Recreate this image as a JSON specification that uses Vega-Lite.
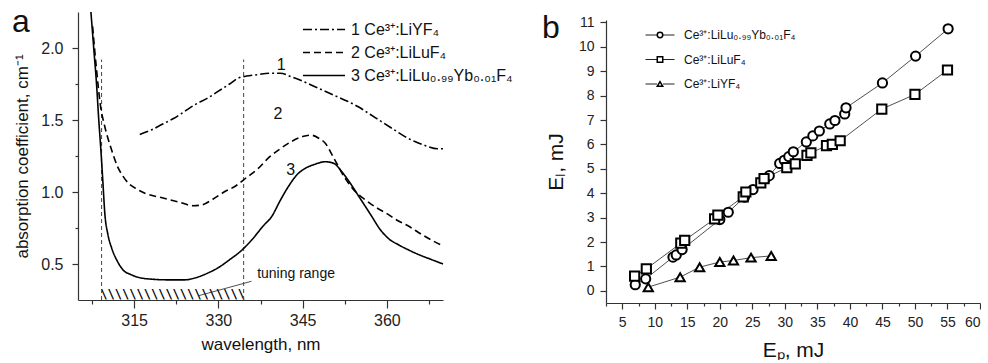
{
  "$schema": "https://vega.github.io/schema/vega-lite/v6.json",
  "background": "white",
  "padding": {"left": 12, "top": 5, "right": 0, "bottom": 0},
  "bounds": "flush",
  "spacing": 163,
  "config": {
    "font": "Liberation Sans",
    "view": {"stroke": null},
    "axis": {"grid": false, "domainColor": "#333", "domainWidth": 1.2, "tickColor": "#333", "tickWidth": 1.2, "labelColor": "#222", "titleColor": "#111", "labelFont": "Liberation Sans", "titleFont": "Liberation Sans", "titleFontWeight": "normal"},
    "legend": {"padding": 0, "labelFont": "Liberation Sans", "labelColor": "#111"},
    "title": {"font": "Liberation Sans", "fontWeight": "normal", "color": "#111"}
  },
  "datasets": {
    "spectra": [
      {"wl": 316, "k": 1.40, "s": "1 Ce³⁺:LiYF₄"}, {"wl": 318, "k": 1.43, "s": "1 Ce³⁺:LiYF₄"}, {"wl": 320, "k": 1.47, "s": "1 Ce³⁺:LiYF₄"}, {"wl": 322, "k": 1.51, "s": "1 Ce³⁺:LiYF₄"}, {"wl": 324, "k": 1.56, "s": "1 Ce³⁺:LiYF₄"}, {"wl": 326, "k": 1.61, "s": "1 Ce³⁺:LiYF₄"}, {"wl": 328, "k": 1.65, "s": "1 Ce³⁺:LiYF₄"}, {"wl": 330, "k": 1.70, "s": "1 Ce³⁺:LiYF₄"}, {"wl": 332, "k": 1.75, "s": "1 Ce³⁺:LiYF₄"}, {"wl": 333.5, "k": 1.79, "s": "1 Ce³⁺:LiYF₄"}, {"wl": 335, "k": 1.805, "s": "1 Ce³⁺:LiYF₄"}, {"wl": 337, "k": 1.815, "s": "1 Ce³⁺:LiYF₄"}, {"wl": 339, "k": 1.825, "s": "1 Ce³⁺:LiYF₄"}, {"wl": 341, "k": 1.825, "s": "1 Ce³⁺:LiYF₄"}, {"wl": 343, "k": 1.80, "s": "1 Ce³⁺:LiYF₄"}, {"wl": 345, "k": 1.77, "s": "1 Ce³⁺:LiYF₄"}, {"wl": 347, "k": 1.735, "s": "1 Ce³⁺:LiYF₄"}, {"wl": 349, "k": 1.70, "s": "1 Ce³⁺:LiYF₄"}, {"wl": 351, "k": 1.665, "s": "1 Ce³⁺:LiYF₄"}, {"wl": 353, "k": 1.63, "s": "1 Ce³⁺:LiYF₄"}, {"wl": 355, "k": 1.59, "s": "1 Ce³⁺:LiYF₄"}, {"wl": 357, "k": 1.54, "s": "1 Ce³⁺:LiYF₄"}, {"wl": 359, "k": 1.49, "s": "1 Ce³⁺:LiYF₄"}, {"wl": 361, "k": 1.44, "s": "1 Ce³⁺:LiYF₄"}, {"wl": 363, "k": 1.39, "s": "1 Ce³⁺:LiYF₄"}, {"wl": 365, "k": 1.35, "s": "1 Ce³⁺:LiYF₄"}, {"wl": 367, "k": 1.32, "s": "1 Ce³⁺:LiYF₄"}, {"wl": 369, "k": 1.30, "s": "1 Ce³⁺:LiYF₄"}, {"wl": 370, "k": 1.30, "s": "1 Ce³⁺:LiYF₄"},
      {"wl": 307.6, "k": 2.15, "s": "2 Ce³⁺:LiLuF₄"}, {"wl": 308.3, "k": 1.85, "s": "2 Ce³⁺:LiLuF₄"}, {"wl": 309, "k": 1.6, "s": "2 Ce³⁺:LiLuF₄"}, {"wl": 309.8, "k": 1.45, "s": "2 Ce³⁺:LiLuF₄"}, {"wl": 311, "k": 1.29, "s": "2 Ce³⁺:LiLuF₄"}, {"wl": 312, "k": 1.18, "s": "2 Ce³⁺:LiLuF₄"}, {"wl": 313, "k": 1.11, "s": "2 Ce³⁺:LiLuF₄"}, {"wl": 314, "k": 1.06, "s": "2 Ce³⁺:LiLuF₄"}, {"wl": 315.5, "k": 1.02, "s": "2 Ce³⁺:LiLuF₄"}, {"wl": 317, "k": 0.99, "s": "2 Ce³⁺:LiLuF₄"}, {"wl": 320, "k": 0.96, "s": "2 Ce³⁺:LiLuF₄"}, {"wl": 323, "k": 0.93, "s": "2 Ce³⁺:LiLuF₄"}, {"wl": 325.5, "k": 0.905, "s": "2 Ce³⁺:LiLuF₄"}, {"wl": 327, "k": 0.91, "s": "2 Ce³⁺:LiLuF₄"}, {"wl": 329, "k": 0.95, "s": "2 Ce³⁺:LiLuF₄"}, {"wl": 331, "k": 1.0, "s": "2 Ce³⁺:LiLuF₄"}, {"wl": 333, "k": 1.04, "s": "2 Ce³⁺:LiLuF₄"}, {"wl": 335, "k": 1.10, "s": "2 Ce³⁺:LiLuF₄"}, {"wl": 337, "k": 1.16, "s": "2 Ce³⁺:LiLuF₄"}, {"wl": 339, "k": 1.24, "s": "2 Ce³⁺:LiLuF₄"}, {"wl": 341, "k": 1.30, "s": "2 Ce³⁺:LiLuF₄"}, {"wl": 343, "k": 1.35, "s": "2 Ce³⁺:LiLuF₄"}, {"wl": 345, "k": 1.385, "s": "2 Ce³⁺:LiLuF₄"}, {"wl": 346.5, "k": 1.395, "s": "2 Ce³⁺:LiLuF₄"}, {"wl": 348, "k": 1.37, "s": "2 Ce³⁺:LiLuF₄"}, {"wl": 349, "k": 1.34, "s": "2 Ce³⁺:LiLuF₄"}, {"wl": 350.5, "k": 1.24, "s": "2 Ce³⁺:LiLuF₄"}, {"wl": 352.5, "k": 1.10, "s": "2 Ce³⁺:LiLuF₄"}, {"wl": 354, "k": 1.02, "s": "2 Ce³⁺:LiLuF₄"}, {"wl": 356, "k": 0.95, "s": "2 Ce³⁺:LiLuF₄"}, {"wl": 358, "k": 0.895, "s": "2 Ce³⁺:LiLuF₄"}, {"wl": 360, "k": 0.85, "s": "2 Ce³⁺:LiLuF₄"}, {"wl": 362, "k": 0.80, "s": "2 Ce³⁺:LiLuF₄"}, {"wl": 364, "k": 0.76, "s": "2 Ce³⁺:LiLuF₄"}, {"wl": 366, "k": 0.71, "s": "2 Ce³⁺:LiLuF₄"}, {"wl": 368, "k": 0.665, "s": "2 Ce³⁺:LiLuF₄"}, {"wl": 370, "k": 0.625, "s": "2 Ce³⁺:LiLuF₄"},
      {"wl": 307.3, "k": 2.25, "s": "3 Ce³⁺:LiLu₀.₉₉Yb₀.₀₁F₄"}, {"wl": 307.8, "k": 2.0, "s": "3 Ce³⁺:LiLu₀.₉₉Yb₀.₀₁F₄"}, {"wl": 308.3, "k": 1.75, "s": "3 Ce³⁺:LiLu₀.₉₉Yb₀.₀₁F₄"}, {"wl": 308.7, "k": 1.5, "s": "3 Ce³⁺:LiLu₀.₉₉Yb₀.₀₁F₄"}, {"wl": 309.06, "k": 1.3, "s": "3 Ce³⁺:LiLu₀.₉₉Yb₀.₀₁F₄"}, {"wl": 309.4, "k": 1.09, "s": "3 Ce³⁺:LiLu₀.₉₉Yb₀.₀₁F₄"}, {"wl": 309.8, "k": 0.84, "s": "3 Ce³⁺:LiLu₀.₉₉Yb₀.₀₁F₄"}, {"wl": 310.3, "k": 0.71, "s": "3 Ce³⁺:LiLu₀.₉₉Yb₀.₀₁F₄"}, {"wl": 311, "k": 0.61, "s": "3 Ce³⁺:LiLu₀.₉₉Yb₀.₀₁F₄"}, {"wl": 312, "k": 0.52, "s": "3 Ce³⁺:LiLu₀.₉₉Yb₀.₀₁F₄"}, {"wl": 313, "k": 0.46, "s": "3 Ce³⁺:LiLu₀.₉₉Yb₀.₀₁F₄"}, {"wl": 314.5, "k": 0.425, "s": "3 Ce³⁺:LiLu₀.₉₉Yb₀.₀₁F₄"}, {"wl": 316, "k": 0.405, "s": "3 Ce³⁺:LiLu₀.₉₉Yb₀.₀₁F₄"}, {"wl": 318, "k": 0.395, "s": "3 Ce³⁺:LiLu₀.₉₉Yb₀.₀₁F₄"}, {"wl": 321, "k": 0.39, "s": "3 Ce³⁺:LiLu₀.₉₉Yb₀.₀₁F₄"}, {"wl": 324, "k": 0.39, "s": "3 Ce³⁺:LiLu₀.₉₉Yb₀.₀₁F₄"}, {"wl": 326, "k": 0.405, "s": "3 Ce³⁺:LiLu₀.₉₉Yb₀.₀₁F₄"}, {"wl": 328, "k": 0.435, "s": "3 Ce³⁺:LiLu₀.₉₉Yb₀.₀₁F₄"}, {"wl": 330, "k": 0.475, "s": "3 Ce³⁺:LiLu₀.₉₉Yb₀.₀₁F₄"}, {"wl": 332, "k": 0.53, "s": "3 Ce³⁺:LiLu₀.₉₉Yb₀.₀₁F₄"}, {"wl": 334, "k": 0.59, "s": "3 Ce³⁺:LiLu₀.₉₉Yb₀.₀₁F₄"}, {"wl": 336, "k": 0.67, "s": "3 Ce³⁺:LiLu₀.₉₉Yb₀.₀₁F₄"}, {"wl": 338, "k": 0.765, "s": "3 Ce³⁺:LiLu₀.₉₉Yb₀.₀₁F₄"}, {"wl": 339.5, "k": 0.83, "s": "3 Ce³⁺:LiLu₀.₉₉Yb₀.₀₁F₄"}, {"wl": 341, "k": 0.94, "s": "3 Ce³⁺:LiLu₀.₉₉Yb₀.₀₁F₄"}, {"wl": 342.5, "k": 1.04, "s": "3 Ce³⁺:LiLu₀.₉₉Yb₀.₀₁F₄"}, {"wl": 344, "k": 1.12, "s": "3 Ce³⁺:LiLu₀.₉₉Yb₀.₀₁F₄"}, {"wl": 345.5, "k": 1.165, "s": "3 Ce³⁺:LiLu₀.₉₉Yb₀.₀₁F₄"}, {"wl": 347, "k": 1.19, "s": "3 Ce³⁺:LiLu₀.₉₉Yb₀.₀₁F₄"}, {"wl": 349, "k": 1.21, "s": "3 Ce³⁺:LiLu₀.₉₉Yb₀.₀₁F₄"}, {"wl": 350.5, "k": 1.20, "s": "3 Ce³⁺:LiLu₀.₉₉Yb₀.₀₁F₄"}, {"wl": 352, "k": 1.14, "s": "3 Ce³⁺:LiLu₀.₉₉Yb₀.₀₁F₄"}, {"wl": 353.5, "k": 1.06, "s": "3 Ce³⁺:LiLu₀.₉₉Yb₀.₀₁F₄"}, {"wl": 355, "k": 0.97, "s": "3 Ce³⁺:LiLu₀.₉₉Yb₀.₀₁F₄"}, {"wl": 357, "k": 0.85, "s": "3 Ce³⁺:LiLu₀.₉₉Yb₀.₀₁F₄"}, {"wl": 359, "k": 0.73, "s": "3 Ce³⁺:LiLu₀.₉₉Yb₀.₀₁F₄"}, {"wl": 360.5, "k": 0.67, "s": "3 Ce³⁺:LiLu₀.₉₉Yb₀.₀₁F₄"}, {"wl": 362, "k": 0.635, "s": "3 Ce³⁺:LiLu₀.₉₉Yb₀.₀₁F₄"}, {"wl": 364, "k": 0.595, "s": "3 Ce³⁺:LiLu₀.₉₉Yb₀.₀₁F₄"}, {"wl": 366, "k": 0.56, "s": "3 Ce³⁺:LiLu₀.₉₉Yb₀.₀₁F₄"}, {"wl": 368, "k": 0.53, "s": "3 Ce³⁺:LiLu₀.₉₉Yb₀.₀₁F₄"}, {"wl": 370, "k": 0.50, "s": "3 Ce³⁺:LiLu₀.₉₉Yb₀.₀₁F₄"}
    ],
    "tuning": [{"wl": 309.2, "k": 0.25, "k2": 1.92}, {"wl": 334.5, "k": 0.25, "k2": 1.92}],
    "hatch": [{"wl": 321.85, "k": 0.29, "t": "\\\\\\\\\\\\\\\\\\\\\\\\\\\\\\\\\\\\\\\\"}],
    "leader": [{"wl": 326.5, "k": 0.28, "wl2": 335.9, "k2": 0.38}],
    "notes": [
      {"wl": 341.2, "k": 1.88, "t": "1"},
      {"wl": 340.6, "k": 1.54, "t": "2"},
      {"wl": 342.9, "k": 1.15, "t": "3"}
    ],
    "rangeLabel": [{"wl": 336.9, "k": 0.43, "t": "tuning range"}],
    "energy": [
      {"ep": 7.0, "el": 0.25, "s": "Ce³⁺:LiLu₀.₉₉Yb₀.₀₁F₄"}, {"ep": 8.6, "el": 0.49, "s": "Ce³⁺:LiLu₀.₉₉Yb₀.₀₁F₄"}, {"ep": 12.8, "el": 1.38, "s": "Ce³⁺:LiLu₀.₉₉Yb₀.₀₁F₄"}, {"ep": 13.3, "el": 1.47, "s": "Ce³⁺:LiLu₀.₉₉Yb₀.₀₁F₄"}, {"ep": 14.2, "el": 1.69, "s": "Ce³⁺:LiLu₀.₉₉Yb₀.₀₁F₄"}, {"ep": 20.0, "el": 2.92, "s": "Ce³⁺:LiLu₀.₉₉Yb₀.₀₁F₄"}, {"ep": 21.3, "el": 3.22, "s": "Ce³⁺:LiLu₀.₉₉Yb₀.₀₁F₄"}, {"ep": 23.8, "el": 3.84, "s": "Ce³⁺:LiLu₀.₉₉Yb₀.₀₁F₄"}, {"ep": 25.1, "el": 4.15, "s": "Ce³⁺:LiLu₀.₉₉Yb₀.₀₁F₄"}, {"ep": 27.0, "el": 4.6, "s": "Ce³⁺:LiLu₀.₉₉Yb₀.₀₁F₄"}, {"ep": 27.6, "el": 4.72, "s": "Ce³⁺:LiLu₀.₉₉Yb₀.₀₁F₄"}, {"ep": 29.2, "el": 5.22, "s": "Ce³⁺:LiLu₀.₉₉Yb₀.₀₁F₄"}, {"ep": 29.9, "el": 5.35, "s": "Ce³⁺:LiLu₀.₉₉Yb₀.₀₁F₄"}, {"ep": 30.6, "el": 5.5, "s": "Ce³⁺:LiLu₀.₉₉Yb₀.₀₁F₄"}, {"ep": 31.3, "el": 5.7, "s": "Ce³⁺:LiLu₀.₉₉Yb₀.₀₁F₄"}, {"ep": 33.3, "el": 6.1, "s": "Ce³⁺:LiLu₀.₉₉Yb₀.₀₁F₄"}, {"ep": 34.3, "el": 6.35, "s": "Ce³⁺:LiLu₀.₉₉Yb₀.₀₁F₄"}, {"ep": 35.3, "el": 6.55, "s": "Ce³⁺:LiLu₀.₉₉Yb₀.₀₁F₄"}, {"ep": 36.9, "el": 6.84, "s": "Ce³⁺:LiLu₀.₉₉Yb₀.₀₁F₄"}, {"ep": 37.7, "el": 6.98, "s": "Ce³⁺:LiLu₀.₉₉Yb₀.₀₁F₄"}, {"ep": 39.2, "el": 7.25, "s": "Ce³⁺:LiLu₀.₉₉Yb₀.₀₁F₄"}, {"ep": 39.4, "el": 7.5, "s": "Ce³⁺:LiLu₀.₉₉Yb₀.₀₁F₄"}, {"ep": 45.0, "el": 8.52, "s": "Ce³⁺:LiLu₀.₉₉Yb₀.₀₁F₄"}, {"ep": 50.1, "el": 9.62, "s": "Ce³⁺:LiLu₀.₉₉Yb₀.₀₁F₄"}, {"ep": 55.1, "el": 10.74, "s": "Ce³⁺:LiLu₀.₉₉Yb₀.₀₁F₄"},
      {"ep": 6.9, "el": 0.6, "s": "Ce³⁺:LiLuF₄"}, {"ep": 8.7, "el": 0.9, "s": "Ce³⁺:LiLuF₄"}, {"ep": 14.0, "el": 1.95, "s": "Ce³⁺:LiLuF₄"}, {"ep": 14.6, "el": 2.07, "s": "Ce³⁺:LiLuF₄"}, {"ep": 19.2, "el": 2.95, "s": "Ce³⁺:LiLuF₄"}, {"ep": 19.7, "el": 3.1, "s": "Ce³⁺:LiLuF₄"}, {"ep": 23.6, "el": 3.85, "s": "Ce³⁺:LiLuF₄"}, {"ep": 24.0, "el": 4.05, "s": "Ce³⁺:LiLuF₄"}, {"ep": 26.3, "el": 4.42, "s": "Ce³⁺:LiLuF₄"}, {"ep": 26.8, "el": 4.6, "s": "Ce³⁺:LiLuF₄"}, {"ep": 30.3, "el": 5.05, "s": "Ce³⁺:LiLuF₄"}, {"ep": 31.6, "el": 5.2, "s": "Ce³⁺:LiLuF₄"}, {"ep": 33.4, "el": 5.55, "s": "Ce³⁺:LiLuF₄"}, {"ep": 34.0, "el": 5.65, "s": "Ce³⁺:LiLuF₄"}, {"ep": 36.4, "el": 5.95, "s": "Ce³⁺:LiLuF₄"}, {"ep": 37.3, "el": 6.0, "s": "Ce³⁺:LiLuF₄"}, {"ep": 38.5, "el": 6.15, "s": "Ce³⁺:LiLuF₄"}, {"ep": 44.9, "el": 7.45, "s": "Ce³⁺:LiLuF₄"}, {"ep": 50.0, "el": 8.05, "s": "Ce³⁺:LiLuF₄"}, {"ep": 55.0, "el": 9.05, "s": "Ce³⁺:LiLuF₄"},
      {"ep": 9.0, "el": 0.15, "s": "Ce³⁺:LiYF₄"}, {"ep": 13.9, "el": 0.56, "s": "Ce³⁺:LiYF₄"}, {"ep": 16.9, "el": 0.97, "s": "Ce³⁺:LiYF₄"}, {"ep": 20.0, "el": 1.18, "s": "Ce³⁺:LiYF₄"}, {"ep": 22.1, "el": 1.24, "s": "Ce³⁺:LiYF₄"}, {"ep": 24.8, "el": 1.36, "s": "Ce³⁺:LiYF₄"}, {"ep": 27.9, "el": 1.43, "s": "Ce³⁺:LiYF₄"}
    ]
  },
  "hconcat": [
    {
      "width": 365,
      "height": 288,
      "title": {"text": "a", "anchor": "start", "frame": "group", "orient": "top", "fontSize": 32, "offset": 0, "dx": -66, "dy": 30},
      "encoding": {
        "x": {"field": "wl", "type": "quantitative", "scale": {"domain": [305, 370], "nice": false, "zero": false},
          "axis": {"title": "wavelength, nm", "values": [307.5, 315, 322.5, 330, 337.5, 345, 352.5, 360, 367.5],
            "labelExpr": "datum.value % 15 === 0 ? datum.label : ''",
            "tickSize": {"condition": {"test": "datum.value % 15 === 0", "value": 8}, "value": 4},
            "labelFontSize": 16, "labelPadding": 4, "titleFontSize": 17, "titlePadding": 8}},
        "y": {"field": "k", "type": "quantitative", "scale": {"domain": [0.25, 2.25], "nice": false, "zero": false},
          "axis": {"title": "absorption coefficient, cm⁻¹", "values": [0.5, 0.75, 1, 1.25, 1.5, 1.75, 2], "format": ".1f",
            "labelExpr": "datum.value % 0.5 === 0 ? datum.label : ''",
            "tickSize": {"condition": {"test": "datum.value % 0.5 === 0", "value": 6}, "value": 3},
            "labelFontSize": 16, "labelPadding": 9, "titleFontSize": 17, "titlePadding": 9}}
      },
      "layer": [
        {"data": {"name": "hatch"}, "mark": {"type": "text", "font": "DejaVu Sans Mono", "fontWeight": "bold", "fontSize": 12, "align": "center", "baseline": "middle", "color": "black"}, "encoding": {"text": {"field": "t"}}},
        {"data": {"name": "leader"}, "mark": {"type": "rule", "color": "#222", "strokeWidth": 0.8}, "encoding": {"x2": {"field": "wl2"}, "y2": {"field": "k2"}}},
        {"data": {"name": "tuning"}, "mark": {"type": "rule", "color": "#444", "strokeWidth": 1, "strokeDash": [4, 3]}, "encoding": {"y2": {"field": "k2"}}},
        {"data": {"name": "spectra"}, "mark": {"type": "line", "color": "black", "strokeWidth": 1.6, "interpolate": "monotone"},
          "encoding": {"strokeDash": {"field": "s", "type": "nominal",
            "scale": {"domain": ["1 Ce³⁺:LiYF₄", "2 Ce³⁺:LiLuF₄", "3 Ce³⁺:LiLu₀.₉₉Yb₀.₀₁F₄"], "range": [[9, 3, 2, 3], [7, 4], [1, 0]]},
            "legend": {"title": null, "orient": "none", "legendX": 238, "legendY": 9.5, "symbolType": "M-4.2,0H4.2", "symbolSize": 100, "symbolStrokeWidth": 1.6, "symbolStrokeColor": "black", "labelFontSize": 16, "labelOffset": 19, "rowPadding": 7, "labelLimit": 300}}}},
        {"data": {"name": "notes"}, "mark": {"type": "text", "fontSize": 16, "color": "#111", "align": "center", "baseline": "middle"}, "encoding": {"text": {"field": "t"}}},
        {"data": {"name": "rangeLabel"}, "mark": {"type": "text", "fontSize": 14, "color": "#111", "align": "left", "baseline": "middle"}, "encoding": {"text": {"field": "t"}}}
      ]
    },
    {
      "width": 374,
      "height": 291,
      "title": {"text": "b", "anchor": "start", "frame": "group", "orient": "top", "fontSize": 32, "offset": 0, "dx": -64, "dy": 33},
      "data": {"name": "energy"},
      "encoding": {
        "x": {"field": "ep", "type": "quantitative", "scale": {"domain": [2.5, 60], "nice": false, "zero": false},
          "axis": {"title": "Eₚ, mJ", "values": [2.5, 5, 7.5, 10, 12.5, 15, 17.5, 20, 22.5, 25, 27.5, 30, 32.5, 35, 37.5, 40, 42.5, 45, 47.5, 50, 52.5, 55, 57.5, 60],
            "format": "d",
            "labelExpr": "datum.value % 5 === 0 ? datum.label : ''",
            "tickSize": {"condition": {"test": "datum.value % 5 === 0", "value": 6}, "value": 3},
            "labelFontSize": 14, "labelPadding": 6, "titleFontSize": 21, "titlePadding": 10}},
        "y": {"field": "el", "type": "quantitative", "scale": {"domain": [-0.5, 11.1], "range": [291, 8], "nice": false, "zero": false},
          "axis": {"title": "Eₗ, mJ", "values": [0, 0.5, 1, 1.5, 2, 2.5, 3, 3.5, 4, 4.5, 5, 5.5, 6, 6.5, 7, 7.5, 8, 8.5, 9, 9.5, 10, 10.5, 11],
            "format": "d",
            "labelExpr": "datum.value % 1 === 0 ? datum.label : ''",
            "tickSize": {"condition": {"test": "datum.value % 1 === 0", "value": 6}, "value": 3},
            "labelFontSize": 14, "labelPadding": 6, "titleFontSize": 21, "titlePadding": 12}}
      },
      "layer": [
        {"mark": {"type": "line", "strokeWidth": 0.8},
          "encoding": {"detail": {"field": "s"},
            "color": {"field": "s", "type": "nominal", "scale": {"range": ["#222", "#222", "#222"]},
              "legend": {"title": null, "orient": "none", "legendX": 576, "legendY": 17, "symbolType": "M-5.8,0H-1.2M1.2,0H5.8", "symbolSize": 25, "symbolStrokeWidth": 1, "labelFontSize": 12, "labelExpr": "''", "rowPadding": 12.5, "labelLimit": 300}}}},
        {"mark": {"type": "point", "filled": true, "fill": "white", "stroke": "black", "strokeWidth": 2, "size": 85, "opacity": 1},
          "encoding": {"shape": {"field": "s", "type": "nominal",
            "scale": {"domain": ["Ce³⁺:LiLu₀.₉₉Yb₀.₀₁F₄", "Ce³⁺:LiLuF₄", "Ce³⁺:LiYF₄"], "range": ["circle", "square", "triangle-up"]},
            "legend": {"title": null, "orient": "none", "legendX": 576, "legendY": 17, "symbolSize": 30, "labelFontSize": 12, "labelOffset": 18, "rowPadding": 12.5, "labelLimit": 300,
              "encode": {"symbols": {"update": {
                "fill": {"value": "white"},
                "stroke": {"value": "black"},
                "strokeWidth": {"value": 1.3},
                "opacity": {"value": 1}}}}}}}}
      ]
    }
  ]
}
